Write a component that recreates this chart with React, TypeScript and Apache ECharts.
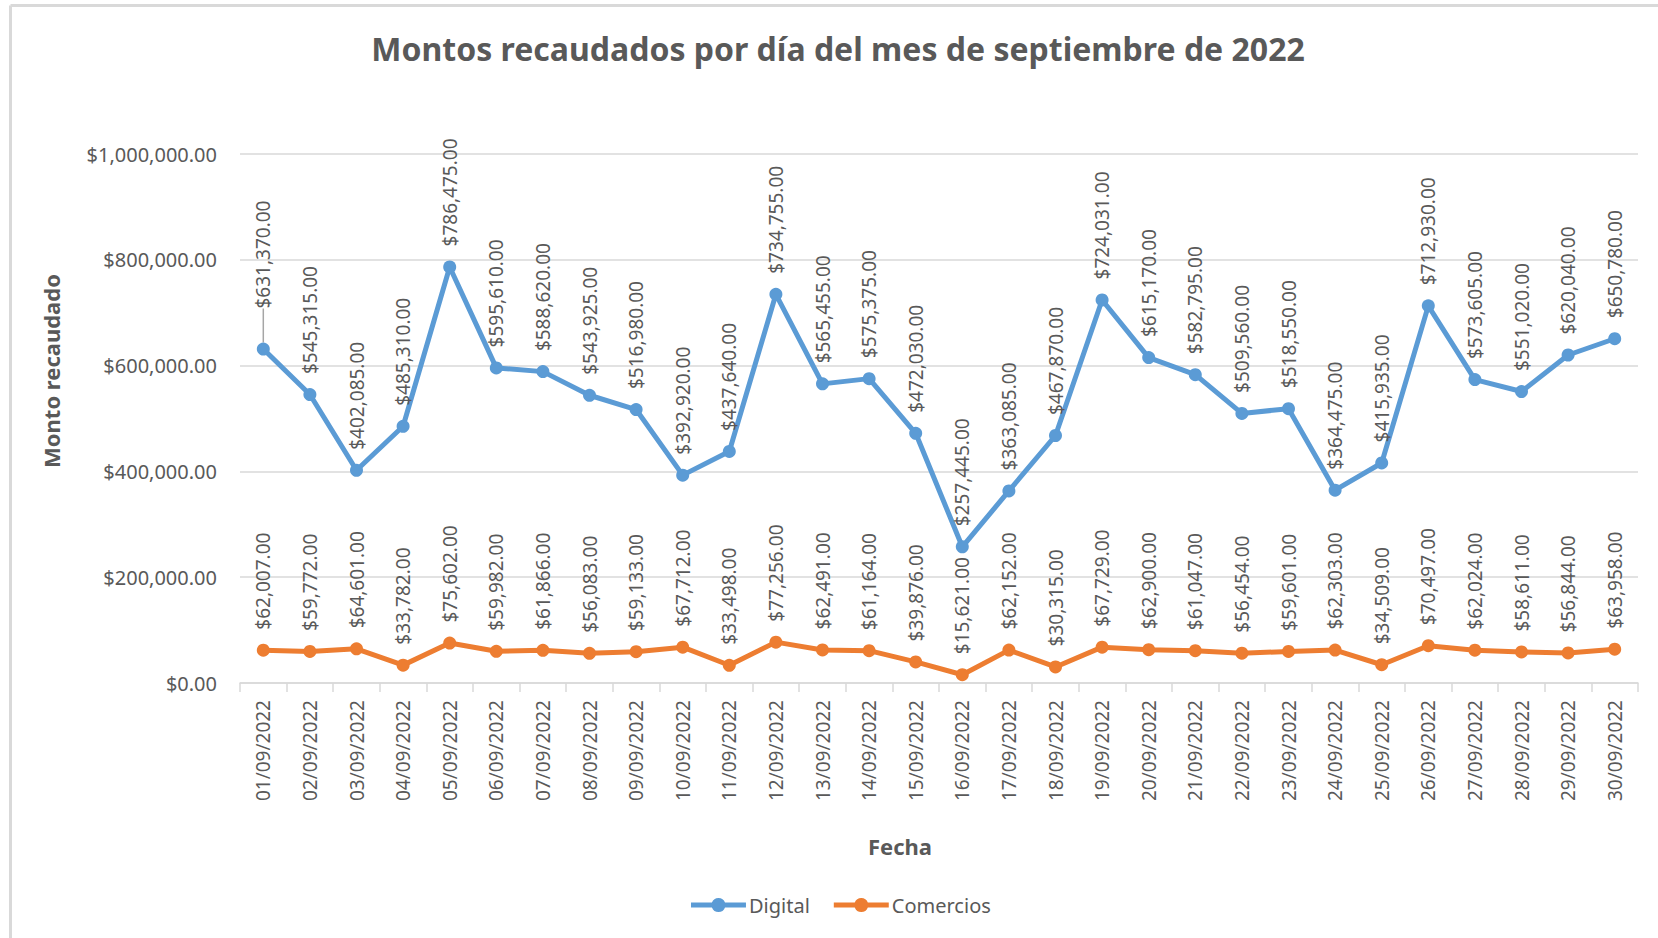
import React, { useEffect, useRef } from "react";
import * as echarts from "echarts";

const fechas: string[] = [
  "01/09/2022", "02/09/2022", "03/09/2022", "04/09/2022", "05/09/2022",
  "06/09/2022", "07/09/2022", "08/09/2022", "09/09/2022", "10/09/2022",
  "11/09/2022", "12/09/2022", "13/09/2022", "14/09/2022", "15/09/2022",
  "16/09/2022", "17/09/2022", "18/09/2022", "19/09/2022", "20/09/2022",
  "21/09/2022", "22/09/2022", "23/09/2022", "24/09/2022", "25/09/2022",
  "26/09/2022", "27/09/2022", "28/09/2022", "29/09/2022", "30/09/2022",
];

const digital: number[] = [
  631370, 545315, 402085, 485310, 786475, 595610, 588620, 543925, 516980, 392920,
  437640, 734755, 565455, 575375, 472030, 257445, 363085, 467870, 724031, 615170,
  582795, 509560, 518550, 364475, 415935, 712930, 573605, 551020, 620040, 650780,
];

const comercios: number[] = [
  62007, 59772, 64601, 33782, 75602, 59982, 61866, 56083, 59133, 67712,
  33498, 77256, 62491, 61164, 39876, 15621, 62152, 30315, 67729, 62900,
  61047, 56454, 59601, 62303, 34509, 70497, 62024, 58611, 56844, 63958,
];

const yTicks = { min: 0, max: 1000000, interval: 200000 };

function money(v: number): string {
  const fixed = Math.abs(v).toFixed(2);
  const [intPart, dec] = fixed.split(".");
  const withCommas = intPart.replace(/\B(?=(\d{3})+(?!\d))/g, ",");
  return (v < 0 ? "-" : "") + "$" + withCommas + "." + dec;
}

const FONT = "'Noto Sans', sans-serif";
const TEXT = "#595959";
const GRID = "#D9D9D9";
const LEGEND_ICON =
  "path://M0,4.5H20.96A7,7,0,0,1,34.04,4.5H55V9.5H34.04A7,7,0,0,1,20.96,9.5H0Z";

export default function App() {
  const ref = useRef<HTMLDivElement>(null);

  useEffect(() => {
    document.body.style.margin = "0";
    if (!ref.current) return;
    const chart = echarts.init(ref.current, null, { renderer: "svg" });

    const labelCfg = {
      show: true,
      position: "top",
      rotate: 90,
      align: "left",
      verticalAlign: "middle",
      distance: 14,
      fontSize: 19,
      fontFamily: FONT,
      color: TEXT,
      formatter: (p: any) => money(p.value),
    };

    const digitalData = digital.map((v, i) =>
      i === 0
        ? { value: v, labelLine: { show: true, lineStyle: { color: "#A6A6A6", width: 1.5 } } }
        : { value: v }
    );

    chart.setOption({
      animation: false,
      backgroundColor: "#FFFFFF",
      title: {
        text: "Montos recaudados por día del mes de septiembre de 2022",
        left: 833,
        top: 27,
        textAlign: "center",
        textStyle: {
          fontFamily: FONT,
          fontWeight: "bold",
          fontSize: 32,
          color: TEXT,
        },
      },
      legend: {
        left: 686,
        top: 890,
        itemWidth: 55,
        itemHeight: 14,
        itemGap: 24,
        textStyle: { fontFamily: FONT, fontSize: 20, color: TEXT, padding: [0, 0, 0, -2] },
        data: [
          { name: "Digital", icon: LEGEND_ICON },
          { name: "Comercios", icon: LEGEND_ICON },
        ],
      },
      grid: { left: 240, right: 20, top: 154, bottom: 255, containLabel: false },
      xAxis: {
        type: "category",
        data: fechas,
        boundaryGap: true,
        axisLine: { show: true, lineStyle: { color: GRID, width: 1.5 } },
        axisTick: { show: true, length: 9, lineStyle: { color: GRID, width: 1.5 } },
        axisLabel: {
          rotate: 90,
          interval: 0,
          margin: 17,
          fontFamily: FONT,
          fontSize: 19,
          color: TEXT,
        },
        splitLine: { show: false },
      },
      yAxis: {
        type: "value",
        min: yTicks.min,
        max: yTicks.max,
        interval: yTicks.interval,
        axisLine: { show: false },
        axisTick: { show: false },
        axisLabel: {
          margin: 23,
          fontFamily: FONT,
          fontSize: 20,
          color: TEXT,
          formatter: (v: number) => money(v),
        },
        splitLine: { show: true, lineStyle: { color: GRID, width: 1.5 } },
      },
      graphic: [
        {
          type: "line",
          shape: { x1: 10.5, y1: 5.5, x2: 1658, y2: 5.5 },
          style: { stroke: GRID, lineWidth: 3 },
          silent: true,
        },
        {
          type: "line",
          shape: { x1: 10.5, y1: 5.5, x2: 10.5, y2: 938 },
          style: { stroke: GRID, lineWidth: 3 },
          silent: true,
        },
        {
          type: "text",
          x: 51,
          y: 371,
          rotation: Math.PI / 2,
          style: {
            text: "Monto recaudado",
            fontFamily: FONT,
            fontWeight: "bold",
            fontSize: 22,
            fill: TEXT,
            align: "center",
            verticalAlign: "middle",
          },
        },
        {
          type: "text",
          x: 900,
          y: 846,
          style: {
            text: "Fecha",
            fontFamily: FONT,
            fontWeight: "bold",
            fontSize: 22,
            fill: TEXT,
            align: "center",
            verticalAlign: "middle",
          },
        },
      ],
      series: [
        {
          name: "Digital",
          type: "line",
          data: digitalData,
          symbol: "circle",
          symbolSize: 13,
          color: "#5B9BD5",
          lineStyle: { width: 5, color: "#5B9BD5" },
          itemStyle: { color: "#5B9BD5" },
          label: labelCfg,
          labelLayout: (p: any) => (p.dataIndex === 0 ? { dx: 20 } : {}),
          z: 3,
        },
        {
          name: "Comercios",
          type: "line",
          data: comercios,
          symbol: "circle",
          symbolSize: 13,
          color: "#ED7D31",
          lineStyle: { width: 5, color: "#ED7D31" },
          itemStyle: { color: "#ED7D31" },
          label: labelCfg,
          z: 2,
        },
      ],
    });

    return () => {
      chart.dispose();
    };
  }, []);

  return (
    <div
      ref={ref}
      style={{ position: "absolute", left: 0, top: 0, width: 1658, height: 938 }}
    />
  );
}
